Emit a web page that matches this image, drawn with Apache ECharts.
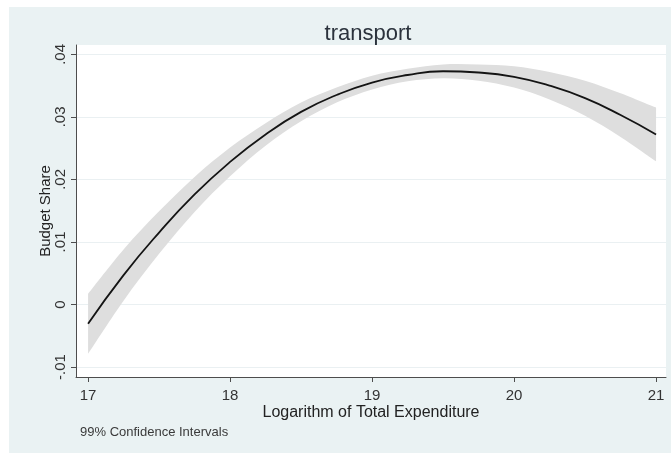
<!DOCTYPE html>
<html>
<head>
<meta charset="utf-8">
<script src="https://cdn.jsdelivr.net/npm/echarts@6/dist/echarts.min.js"></script>
<style>
  html, body { margin: 0; padding: 0; background: #ffffff; }
  #chart { width: 671px; height: 453px; }
</style>
</head>
<body>
<div id="chart"></div>
<script>
// Log of total expenditure (evaluation points of the fitted curve)
const lnExpenditure = [17.00, 17.25, 17.50, 17.75, 18.00, 18.25, 18.50, 18.75, 19.00,
                       19.25, 19.50, 19.75, 20.00, 20.25, 20.50, 20.75, 21.00];
// Fitted budget share for transport
const budgetShare = [-0.0031, 0.0047, 0.0115, 0.0176, 0.0228, 0.0272, 0.0308, 0.0335, 0.0355,
                     0.0367, 0.0373, 0.0371, 0.0364, 0.0350, 0.0330, 0.0303, 0.0272];
// 99% confidence band
const ciLower = [-0.0079, 0.0006, 0.0081, 0.0148, 0.0205, 0.0254, 0.0293, 0.0323, 0.0344,
                 0.0357, 0.0362, 0.0358, 0.0347, 0.0328, 0.0302, 0.0268, 0.0229];
const ciUpper = [0.0017, 0.0088, 0.0149, 0.0204, 0.0251, 0.0290, 0.0323, 0.0347, 0.0366,
                 0.0377, 0.0384, 0.0384, 0.0381, 0.0372, 0.0358, 0.0338, 0.0315];

const xTicks = [17, 18, 19, 20, 21];
const yTicks = [-0.01, 0, 0.01, 0.02, 0.03, 0.04];
const yTickLabels = ['-.01', '0', '.01', '.02', '.03', '.04'];

const FONT = '"Liberation Sans", Arial, sans-serif';
const AXIS_COLOR = '#4d4d4d';

function yLabel(v) {
  const i = yTicks.findIndex(t => Math.abs(t - v) < 1e-9);
  return i >= 0 ? yTickLabels[i] : '';
}

// Catmull-Rom spline through pixel points, as SVG cubic segments
function splineSegments(pts) {
  let d = '';
  for (let i = 0; i < pts.length - 1; i++) {
    const p0 = pts[Math.max(i - 1, 0)];
    const p1 = pts[i];
    const p2 = pts[i + 1];
    const p3 = pts[Math.min(i + 2, pts.length - 1)];
    const c1 = [p1[0] + (p2[0] - p0[0]) / 6, p1[1] + (p2[1] - p0[1]) / 6];
    const c2 = [p2[0] - (p3[0] - p1[0]) / 6, p2[1] - (p3[1] - p1[1]) / 6];
    d += ' C' + c1[0] + ',' + c1[1] + ' ' + c2[0] + ',' + c2[1] + ' ' + p2[0] + ',' + p2[1];
  }
  return d;
}

// Shaded confidence band: upper edge left-to-right, lower edge back
function renderBand(params, api) {
  const upper = lnExpenditure.map((x, i) => api.coord([x, ciUpper[i]]));
  const lower = lnExpenditure.map((x, i) => api.coord([x, ciLower[i]])).reverse();
  let d = 'M' + upper[0][0] + ',' + upper[0][1] + splineSegments(upper);
  d += ' L' + lower[0][0] + ',' + lower[0][1] + splineSegments(lower) + ' Z';
  return {
    type: 'path',
    shape: { pathData: d },
    style: { fill: '#dedede', stroke: null }
  };
}

const chart = echarts.init(document.getElementById('chart'), null, { renderer: 'canvas' });

chart.setOption({
  animation: false,
  backgroundColor: '#ffffff',
  textStyle: { fontFamily: FONT },
  graphic: [
    { type: 'rect', z: -10, silent: true,
      shape: { x: 9, y: 7, width: 662, height: 446 },
      style: { fill: '#eaf2f3' } },
    { type: 'text', z: 10, silent: true,
      style: { text: 'transport', x: 368, y: 34, textAlign: 'center', textVerticalAlign: 'middle',
               font: '22px ' + FONT, fill: '#2b323c' } },
    { type: 'text', z: 10, silent: true,
      style: { text: '99% Confidence Intervals', x: 80, y: 432, textAlign: 'left', textVerticalAlign: 'middle',
               font: '13px ' + FONT, fill: '#3a3a3a' } }
  ],
  grid: {
    left: 76, right: 5, top: 45, bottom: 76,
    show: true, backgroundColor: '#ffffff', borderWidth: 0, containLabel: false
  },
  xAxis: {
    type: 'value',
    min: 16.915, max: 21.07,
    name: 'Logarithm of Total Expenditure',
    nameLocation: 'middle',
    nameGap: 28,
    nameMoveOverlap: false,
    nameTextStyle: { fontSize: 16, color: '#222222', fontFamily: FONT },
    axisLine: { show: true, onZero: false, lineStyle: { color: AXIS_COLOR, width: 1 } },
    axisTick: { show: true, inside: false, length: 5, customValues: xTicks,
                lineStyle: { color: AXIS_COLOR } },
    axisLabel: { show: true, customValues: xTicks, margin: 11, fontSize: 15, color: '#333333',
                 fontFamily: FONT, formatter: v => String(v) },
    splitLine: { show: false }
  },
  yAxis: {
    type: 'value',
    min: -0.0116, max: 0.0415,
    name: 'Budget Share',
    nameLocation: 'middle',
    nameGap: 23,
    nameMoveOverlap: false,
    nameTextStyle: { fontSize: 15, color: '#222222', fontFamily: FONT },
    axisLine: { show: true, onZero: false, lineStyle: { color: AXIS_COLOR, width: 1 } },
    axisTick: { show: true, inside: false, length: 5, customValues: yTicks,
                lineStyle: { color: AXIS_COLOR } },
    axisLabel: { show: true, customValues: yTicks, rotate: 90, margin: 8, fontSize: 15,
                 color: '#333333', fontFamily: FONT, formatter: yLabel },
    splitLine: { show: true, lineStyle: { color: '#eaf0f2', width: 1 } }
  },
  series: [
    {
      name: 'ci', type: 'custom',
      data: lnExpenditure.map((x, i) => [x, ciLower[i]]).slice(0, 1),
      renderItem: renderBand,
      silent: true, clip: true, z: 1
    },
    {
      name: 'fit', type: 'line',
      data: lnExpenditure.map((x, i) => [x, budgetShare[i]]),
      smooth: 0.5, symbol: 'none', silent: true,
      lineStyle: { color: '#141414', width: 1.8 }, z: 3
    }
  ]
});
</script>
</body>
</html>
